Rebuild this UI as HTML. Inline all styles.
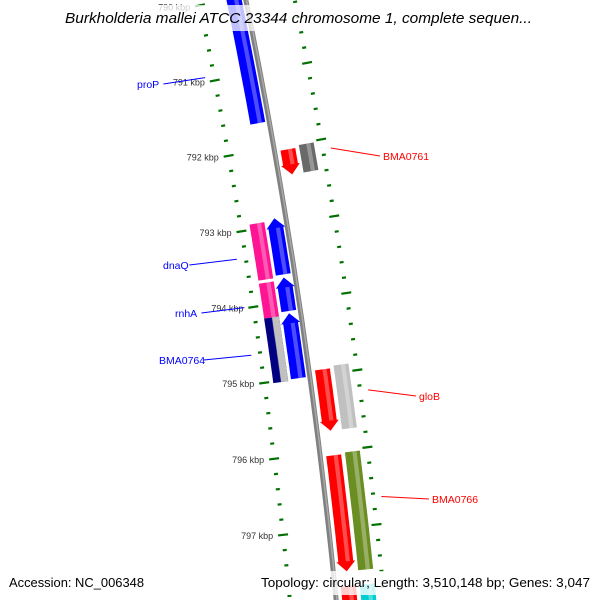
<!DOCTYPE html>
<html><head><meta charset="utf-8"><style>
html,body{margin:0;padding:0;background:#fff;width:600px;height:600px;overflow:hidden;}
svg{display:block;font-family:"Liberation Sans",sans-serif;overflow:hidden;}
</style></head><body>
<svg id="map" width="600" height="600" viewBox="0 0 600 600" xmlns="http://www.w3.org/2000/svg">
<g id="ticks"></g>
<g id="backbone"></g>
<g id="genes"></g>
<g id="labels"></g>
<rect x="58" y="5" width="486" height="26" fill="#fff" fill-opacity="0.75"/>
<text x="65" y="23" textLength="467" lengthAdjust="spacingAndGlyphs" font-size="14.5" font-style="italic" fill="#000">Burkholderia mallei ATCC 23344 chromosome 1, complete sequen...</text>
<rect x="4" y="571" width="146" height="24" fill="#fff" fill-opacity="0.8"/>
<text x="9" y="587" textLength="135" lengthAdjust="spacingAndGlyphs" font-size="13" fill="#000">Accession: NC_006348</text>
<rect x="256" y="571" width="340" height="24" fill="#fff" fill-opacity="0.8"/>
<text x="261" y="587" textLength="329" lengthAdjust="spacingAndGlyphs" font-size="13" fill="#000">Topology: circular; Length: 3,510,148 bp; Genes: 3,047</text>
</svg>
<script>
// data
const tickKbp = [790, 791, 792, 793, 794, 795, 796, 797, 798];
const tickLabels = ["790 kbp","791 kbp","792 kbp","793 kbp","794 kbp","795 kbp","796 kbp","797 kbp","798 kbp"];
const geneNames = ["proP","BMA0761","dnaQ","rnhA","BMA0764","gloB","BMA0766","next-gene"];
const geneStart = [789.6, 792.05, 792.90, 793.68, 794.15, 794.93, 796.05, 797.75];
const geneEnd   = [791.65, 792.38, 793.64, 794.12, 795.00, 795.73, 797.56, 798.6];
const geneStrand = [-1, 1, -1, -1, -1, 1, 1, 1];
const cogColor = [null, "#696969", "#ff1493", "#ff1493", "#000080", "#c0c0c0", "#6b8e23", "#00ced1"];
const cogStart = [null, 792.02, 792.93, 793.71, 794.17, 794.90, 796.03, 797.75];
const cogEnd   = [null, 792.38, 793.67, 794.17, 795.02, 795.73, 797.56, 798.6];
const labelText = ["proP","BMA0761","dnaQ","rnhA","BMA0764","gloB","BMA0766"];
const labelX = [137, 383, 163, 175, 159, 419, 432];
const labelY = [88, 160, 269, 317, 364, 400, 503];
const labelAnchorKbp = [790.94, 792.13, 793.35, 793.99, 794.62, 795.27, 796.65];

const NS="http://www.w3.org/2000/svg";
const cx=-5596, cy=1186, RB=5961;
function P(k,r){const a=(-10.03+(k-792)*0.742)*Math.PI/180;return [cx+r*Math.cos(a), cy+r*Math.sin(a)];}
function mk(tag,attrs,parent){const e=document.createElementNS(NS,tag);for(const k in attrs)e.setAttribute(k,attrs[k]);parent.appendChild(e);return e;}
function ptsStr(a){return a.map(p=>p[0].toFixed(1)+","+p[1].toFixed(1)).join(" ");}
function band(k0,k1,r0,r1,arrow){
  const n=12, pts=[], head=0.13, mid=(r0+r1)/2;
  let a0=k0,a1=k1;
  if(arrow===1) a1=k1-head;
  if(arrow===-1) a0=k0+head;
  if(arrow===-1){pts.push(P(k0,mid));pts.push(P(a0,r1+2));}
  for(let i=0;i<=n;i++)pts.push(P(a0+(a1-a0)*i/n,r1));
  if(arrow===1){pts.push(P(a1,r1+2));pts.push(P(k1,mid));pts.push(P(a1,r0-2));}
  for(let i=n;i>=0;i--)pts.push(P(a0+(a1-a0)*i/n,r0));
  if(arrow===-1){pts.push(P(a0,r0-2));}
  return ptsStr(pts);
}
// ticks
const gT=document.getElementById('ticks');
const rings=[5915,6009];
rings.forEach(r=>{
  for(let k=789.6;k<=799;k+=0.2){
    const kk=Math.round(k*10)/10;
    const major=Math.abs(kk-Math.round(kk))<0.01;
    const a=P(kk,major?r-5:r-2), b=P(kk,major?r+5:r+2);
    const t=mk('line',{x1:a[0],y1:a[1],x2:b[0],y2:b[1],stroke:'#007000','stroke-width':2.2},gT);
    
    
  }
});
tickKbp.forEach((k,i)=>{
  const p=P(k,5905);
  const t=mk('text',{x:p[0],y:p[1]+3,'text-anchor':'end','font-size':9,fill:'#333'},gT);
  t.textContent=tickLabels[i];
  
  
});
// backbone
const gB=document.getElementById('backbone');
const bb=[];for(let k=789.5;k<=799;k+=0.25)bb.push(P(k,RB));
const b1=mk('polyline',{points:ptsStr(bb),fill:'none',stroke:'#808080','stroke-width':5},gB);


const bb2=bb.map(p=>[p[0]+0.8,p[1]]);
const b2=mk('polyline',{points:ptsStr(bb2),fill:'none',stroke:'#a8a8a8','stroke-width':1.5},gB);


// genes
const gG=document.getElementById('genes');
function drawBand(k0,k1,r0,r1,color,arrow,name){
  const e=mk('polygon',{points:band(k0,k1,r0,r1,arrow),fill:color},gG);
  
  
  const h=mk('polygon',{points:band(k0+(arrow===-1?0.13:0),k1-(arrow===1?0.13:0),r0+(r1-r0)*0.5,r0+(r1-r0)*0.78,0),fill:'#fff','fill-opacity':0.3},gG);
  
  
}
geneNames.forEach((n,i)=>{
  const s=geneStrand[i];
  const lane = s===1?[RB+6,RB+21]:[RB-19,RB-4];
  drawBand(geneStart[i],geneEnd[i],lane[0],lane[1],s===1?'#ff0000':'#0000ff',s,'gene-'+n);
  if(cogColor[i]){
    const l2 = s===1?[RB+25,RB+40]:[RB-37,RB-22];
    drawBand(cogStart[i],cogEnd[i],l2[0],l2[1],cogColor[i],0,'cog-'+n);
    if(n==='BMA0764'){
      const e=mk('polygon',{points:band(cogStart[i],cogEnd[i],RB-29,RB-22,0),fill:'#c0c0c0'},gG);
      
      
    }
  }
});
// labels
const gL=document.getElementById('labels');
labelText.forEach((t,i)=>{
  const fwd = labelX[i]>300;
  const col = fwd?'#ff0000':'#0000ff';
  const p = P(labelAnchorKbp[i], fwd?RB+56:RB-55);
  const lx = fwd?labelX[i]-3:labelX[i]+t.length*6.1+2;
  const ln=mk('line',{x1:p[0],y1:p[1],x2:lx,y2:labelY[i]-4,stroke:col,'stroke-width':1},gL);
  
  
  const tx=mk('text',{x:labelX[i],y:labelY[i],'font-size':10.5,fill:col},gL);
  tx.textContent=t;
  
  
});
</script>
</body></html>
